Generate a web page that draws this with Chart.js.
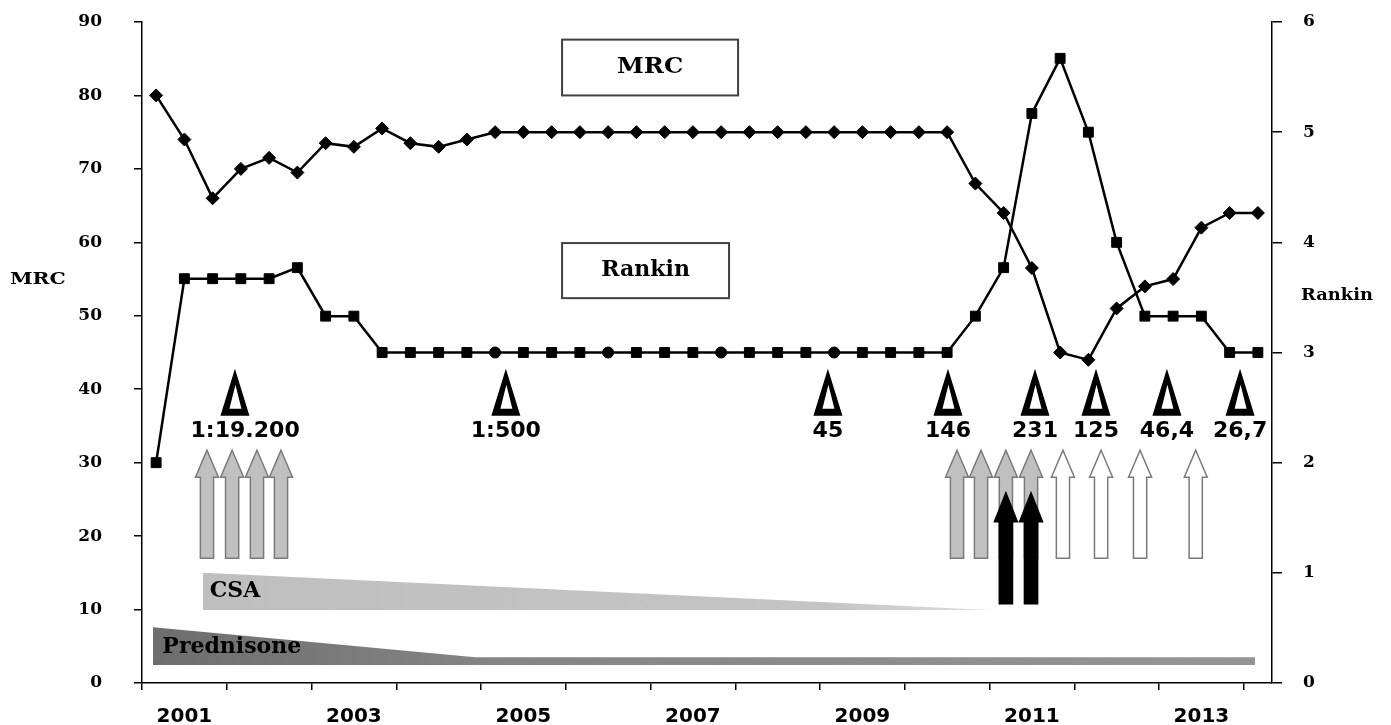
<!DOCTYPE html>
<html>
<head>
<meta charset="utf-8">
<script src="https://cdn.jsdelivr.net/npm/chart.js@4.4.1/dist/chart.umd.min.js"></script>
<style>
body{margin:0;background:#fff;}
#wrap{width:1391px;height:725px;position:relative;}
</style>
</head>
<body>
<div id="wrap"><canvas id="c"></canvas></div>
<script>
// 40 visits, 3 per year, 2001 .. 2014
const mrc = [80,74,66,70,71.5,69.5,73.5,73,75.5,73.5,73,74,75,
75,75,75,75,75,75,75,75,75,75,75,75,75,75,75,75,
68,64,56.5,45,44,51,54,55,62,64,64];
const rankin = [2,3.67,3.67,3.67,3.67,3.77,3.33,3.33,
3,3,3,3,3,3,3,3,3,3,3,3,3,3,3,3,3,3,3,3,3,
3.33,3.77,5.17,5.67,5,4,3.33,3.33,3.33,3,3];
const roundPoints = [12,16,20,24];

const yearLabels = ["2001","2003","2005","2007","2009","2011","2013"];
const yearPos = [1.5,7.5,13.5,19.5,25.5,31.5,37.5];
const yearTicks = [0,3,6,9,12,15,18,21,24,27,30,33,36,39];

// treatment bands (x in visit slots, y in MRC units)
const csaX = [2.16,30.0];
const csaY = [15.0,9.94];
const csaBase = 9.94;
const predX = [0.39,11.8,39.4];
const predY = [7.6,3.5,3.5];
const predBase = 2.45;

// titres
const deltaX = [3.29,12.88,24.28,28.53,31.61,33.77,36.28,38.87];
const deltaText = ["1:19.200","1:500","45","146","231","125","46,4","26,7"];
const deltaTextX = [3.65,12.88,24.28,28.53,31.61,33.77,36.28,38.87];

// infusions
const grayArrows = [2.3,3.19,4.07,4.92,28.85,29.7,30.58,31.47];
const whiteArrows = [32.6,33.95,35.33,37.3];
const blackArrows = [30.58,31.47];

const pts = arr => arr.map((v,i)=>({x:i+0.5,y:v}));
const xy = (xs,ys) => xs.map((v,i)=>({x:v,y:ys[i]}));

function txt(ctx,s,px,py,font,align,sx){
  ctx.save();
  ctx.font=font;ctx.textAlign=align;ctx.textBaseline='middle';ctx.fillStyle='#000';
  ctx.translate(px,py);ctx.scale(sx||1,1);ctx.fillText(s,0,0);
  ctx.restore();
}

function arrow(ctx,cx,tip,bot,fill,stroke,headH){
  const hw=11.5,sw=6.6;
  ctx.beginPath();
  ctx.moveTo(cx,tip);
  ctx.lineTo(cx+hw,tip+headH);
  ctx.lineTo(cx+sw,tip+headH);
  ctx.lineTo(cx+sw,bot);
  ctx.lineTo(cx-sw,bot);
  ctx.lineTo(cx-sw,tip+headH);
  ctx.lineTo(cx-hw,tip+headH);
  ctx.closePath();
  ctx.fillStyle=fill;ctx.fill();
  ctx.lineWidth=1.5;ctx.strokeStyle=stroke;ctx.stroke();
}

function delta(ctx,cx,bot){
  const top=bot-47,hw=14.5;
  ctx.beginPath();
  ctx.moveTo(cx,top);ctx.lineTo(cx+hw,bot);ctx.lineTo(cx-hw,bot);ctx.closePath();
  ctx.moveTo(cx+0.5,top+16);ctx.lineTo(cx+6.5,bot-7);ctx.lineTo(cx-5.5,bot-7);ctx.closePath();
  ctx.fillStyle='#000';ctx.fill('evenodd');
}

const overlay={
  id:'overlay',
  afterDatasetsDraw(chart){
    const {ctx,scales:{x,y}}=chart;
    const serif='bold 22px "DejaVu Serif"';
    // boxes
    ctx.save();
    ctx.lineWidth=2;ctx.strokeStyle='#404040';ctx.fillStyle='#fff';
    let bx=x.getPixelForValue(14.87),bw=x.getPixelForValue(21.1)-bx;
    let by=y.getPixelForValue(87.6),bh=y.getPixelForValue(80)-by;
    ctx.fillRect(bx,by,bw,bh);ctx.strokeRect(bx,by,bw,bh);
    txt(ctx,'MRC',bx+bw/2,by+bh/2,serif,'center',1.1);
    bx=x.getPixelForValue(14.87);bw=x.getPixelForValue(20.78)-bx;
    by=y.getPixelForValue(59.9);bh=y.getPixelForValue(52.4)-by;
    ctx.fillRect(bx,by,bw,bh);ctx.strokeRect(bx,by,bw,bh);
    txt(ctx,'Rankin',bx+bw/2,by+bh/2,serif,'center',1.0);
    ctx.restore();

    // axis titles
    txt(ctx,'MRC',10,y.getPixelForValue(54.9),'bold 17px "DejaVu Serif"','left',1.2);
    txt(ctx,'Rankin',1301,y.getPixelForValue(52.8),'bold 17px "DejaVu Serif"','left',1.05);

    // band labels
    txt(ctx,'CSA',x.getPixelForValue(2.4),y.getPixelForValue(12.5),serif,'left',1);
    txt(ctx,'Prednisone',x.getPixelForValue(0.72),y.getPixelForValue(4.8),serif,'left',1);

    // titres
    const dBot=y.getPixelForValue(36.4),tY=y.getPixelForValue(34.2);
    deltaX.forEach((v,i)=>{
      delta(ctx,x.getPixelForValue(v),dBot);
      txt(ctx,deltaText[i],x.getPixelForValue(deltaTextX[i]),tY,'bold 21px "DejaVu Sans"','center',1.05);
    });

    // arrows
    const tip=y.getPixelForValue(31.7),bot=y.getPixelForValue(17.0);
    grayArrows.forEach(v=>arrow(ctx,x.getPixelForValue(v),tip,bot,'#c0c0c0','#7a7a7a',27));
    whiteArrows.forEach(v=>arrow(ctx,x.getPixelForValue(v),tip,bot,'#ffffff','#7a7a7a',27));
    const btip=y.getPixelForValue(25.9),bbot=y.getPixelForValue(10.8);
    blackArrows.forEach(v=>arrow(ctx,x.getPixelForValue(v),btip,bbot,'#000000','#000000',29));
  }
};

function gradient(ctx,x0,x1,stops,fallback){
  const chart=ctx.chart;
  if(!chart.chartArea) return fallback;
  const sx=chart.scales.x;
  const g=chart.ctx.createLinearGradient(sx.getPixelForValue(x0),0,sx.getPixelForValue(x1),0);
  stops.forEach(s=>g.addColorStop(s[0],s[1]));
  return g;
}

new Chart(document.getElementById('c'),{
  type:'line',
  data:{
    datasets:[
      {
        label:'MRC',
        data:pts(mrc),
        yAxisID:'y',
        borderColor:'#000',borderWidth:2.5,
        pointStyle:'rectRot',pointRadius:6.5,
        pointBackgroundColor:'#000',pointBorderColor:'#000',pointBorderWidth:1,
        tension:0,fill:false
      },
      {
        label:'Rankin',
        data:pts(rankin),
        yAxisID:'y1',
        borderColor:'#000',borderWidth:2.5,
        pointStyle:c=>roundPoints.includes(c.dataIndex)?'circle':'rect',
        pointRadius:c=>roundPoints.includes(c.dataIndex)?5.5:7,
        pointBackgroundColor:'#000',pointBorderColor:'#000',pointBorderWidth:1,
        tension:0,fill:false
      },
      {
        label:'CSA',
        data:xy(csaX,csaY),
        yAxisID:'y',
        borderWidth:0,borderColor:'rgba(0,0,0,0)',pointRadius:0,
        backgroundColor:c=>gradient(c,csaX[0],csaX[1],[[0,'#bfbfbf'],[0.8,'#c4c4c4'],[1,'#dedede']],'#c0c0c0'),
        fill:{value:csaBase},tension:0
      },
      {
        label:'Prednisone',
        data:xy(predX,predY),
        yAxisID:'y',
        borderWidth:0,borderColor:'rgba(0,0,0,0)',pointRadius:0,
        backgroundColor:c=>gradient(c,predX[0],predX[2],[[0,'#6e6e6e'],[0.3,'#848484'],[1,'#959595']],'#808080'),
        fill:{value:predBase},tension:0
      }
    ]
  },
  options:{
    responsive:true,maintainAspectRatio:false,animation:false,
    layout:{padding:{top:22,left:0,right:0,bottom:0}},
    plugins:{legend:{display:false},tooltip:{enabled:false}},
    scales:{
      x:{
        type:'linear',min:0,max:40,position:'bottom',
        afterBuildTicks:s=>{s.ticks=yearTicks.map(v=>({value:v}));},
        afterFit:s=>{s.height=8;},
        grid:{drawOnChartArea:false,drawTicks:true,tickLength:7,color:'#000',lineWidth:1.5},
        border:{color:'#000',width:1.5},
        ticks:{display:false}
      },
      x2:{
        type:'linear',min:0,max:40,position:'bottom',
        afterBuildTicks:s=>{s.ticks=yearPos.map(v=>({value:v}));},
        afterFit:s=>{s.height=34;},
        grid:{display:false},border:{display:false},
        ticks:{
          autoSkip:false,maxRotation:0,padding:6,color:'#000',
          font:{family:'DejaVu Sans',weight:'bold',size:20},
          callback:v=>{const i=yearPos.indexOf(v);return i>=0?yearLabels[i]:'';}
        }
      },
      y:{
        position:'left',min:0,max:90,
        afterFit:s=>{s.width=142;s.paddingTop=0;s.paddingBottom=0;},
        grid:{drawOnChartArea:false,tickLength:8,color:'#000',lineWidth:1.5},
        border:{color:'#000',width:1.5},
        ticks:{stepSize:10,padding:32,color:'#000',font:{family:'DejaVu Serif',weight:'bold',size:17}}
      },
      y1:{
        position:'right',min:0,max:6,
        afterFit:s=>{s.width=119;s.paddingTop=0;s.paddingBottom=0;},
        grid:{drawOnChartArea:false,tickLength:10,color:'#000',lineWidth:1.5},
        border:{color:'#000',width:1.5},
        ticks:{stepSize:1,padding:21,color:'#000',font:{family:'DejaVu Serif',weight:'bold',size:17}}
      }
    }
  },
  plugins:[overlay]
});
</script>
</body>
</html>
